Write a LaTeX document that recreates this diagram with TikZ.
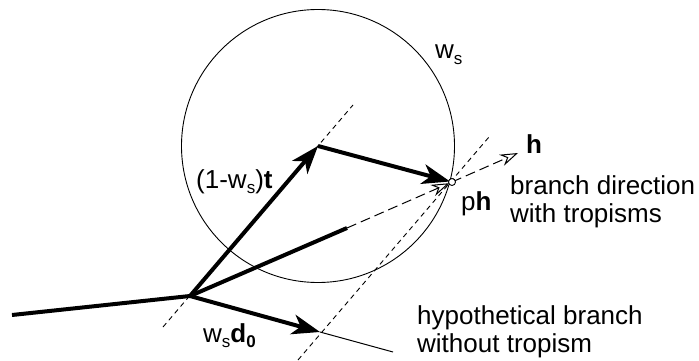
\documentclass[tikz,border=0pt]{standalone}
\usepackage{fontspec}
\setmainfont{Liberation Sans}
\usetikzlibrary{arrows.meta}
\newcommand{\mysub}[1]{\raisebox{-0.22em}{\fontsize{17}{17}\selectfont #1}}
\begin{document}
\begin{tikzpicture}[x=1pt,y=-1pt,
  thickline/.style={line width=4pt},
  bighead/.style={-{Stealth[length=28pt,width=20pt,inset=8pt]}},
  openhead/.style={-{Stealth[open,length=18pt,width=12pt,inset=6pt,line width=1pt]}},
  guide/.style={line width=0.9pt,dash pattern=on 5pt off 4pt},
  longdash/.style={line width=1pt,dash pattern=on 10pt off 5pt},
  lbl/.style={anchor=base west,inner sep=0pt,font=\fontsize{26}{30}\selectfont}]
\useasboundingbox (0,0) rectangle (699,361);
% points
\coordinate (S) at (12,315);
\coordinate (B) at (190,296);
\coordinate (T) at (318,146);
\coordinate (P) at (452,182);
\coordinate (D) at (320,332);
\coordinate (Dend) at (393,352);
\coordinate (M) at (347,228);
\coordinate (H) at (518,153);
\coordinate (G1a) at (163,327);
\coordinate (G1b) at (353,105);
\coordinate (G2a) at (298,360);
\coordinate (G2b) at (489,137);
% circle of radius w_s
\draw[line width=0.9pt] (T) circle[radius=136.5];
% guide lines
\draw[guide] (G1a) -- (G1b);
\draw[guide] (G2a) -- (G2b);
% stem
\draw[thickline] (S) -- (B);
% (1-ws) t
\draw[thickline,bighead] (B) -- (T);
% to ph
\draw[thickline,bighead,shorten >=2pt] (T) -- (P);
% w_s d_0
\draw[thickline,bighead] (B) -- (D);
\draw[line width=1pt] (D) -- (Dend);
% h direction
\draw[thickline] (B) -- (M);
\draw[longdash,openhead,shorten >=3pt] (M) -- (P);
\draw[longdash,openhead] (P) -- (H);
\node[draw,circle,line width=0.9pt,fill=white,minimum size=7pt,inner sep=0pt] (pc) at (P) {};
% labels
\node[lbl] (lws) at (435,59) {w\mysub{s}};
\node[lbl] (lt) at (196,188) {(1-w\mysub{s})\textbf{t}};
\node[lbl] (lph) at (461,210) {p\textbf{h}};
\node[lbl] (lh) at (526,153) {\textbf{h}};
\node[lbl] (lbd1) at (510,194) {branch direction};
\node[lbl] (lbd2) at (510,222) {with tropisms};
\node[lbl] (lhy1) at (417,324) {hypothetical branch};
\node[lbl] (lhy2) at (417,352) {without tropism};
\node[lbl] (ld) at (203,342) {w\mysub{s}\textbf{d\mysub{0}}};
\end{tikzpicture}
\end{document}
